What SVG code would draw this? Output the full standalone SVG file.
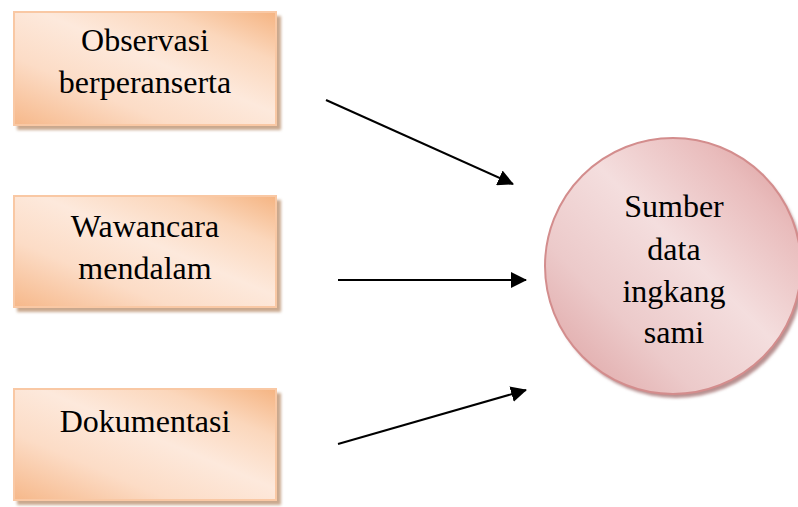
<svg xmlns="http://www.w3.org/2000/svg" width="798" height="507" viewBox="0 0 798 507">
<defs>
<linearGradient id="boxg" x1="0" y1="1" x2="1" y2="0">
<stop offset="0" stop-color="#f6b88a"/>
<stop offset="0.3" stop-color="#fcdcc6"/>
<stop offset="0.55" stop-color="#fde9dc"/>
<stop offset="0.78" stop-color="#fbd7bc"/>
<stop offset="1" stop-color="#f5b482"/>
</linearGradient>
<linearGradient id="circg" x1="0" y1="1" x2="1" y2="0">
<stop offset="0" stop-color="#dc9d9d"/>
<stop offset="0.3" stop-color="#eccaca"/>
<stop offset="0.55" stop-color="#f4dede"/>
<stop offset="0.8" stop-color="#e9bcbc"/>
<stop offset="1" stop-color="#d89696"/>
</linearGradient>
<filter id="sh" x="-10%" y="-10%" width="130%" height="130%">
<feGaussianBlur stdDeviation="1.5"/>
</filter>
<marker id="ah" markerWidth="8" markerHeight="8" refX="7.5" refY="4" orient="auto" markerUnits="strokeWidth">
<path d="M0,0 L8,4 L0,8 Z" fill="#000"/>
</marker>
<style>
.box{fill:url(#boxg);stroke:#f9c8a4;stroke-width:2}
.bsh{fill:#c9a88e;filter:url(#sh)}
.t{font-family:"Liberation Serif","Times New Roman",serif;font-size:32px;fill:#000;text-anchor:middle}
.c{stroke:#000;stroke-width:2;fill:none;marker-end:url(#ah)}
</style>
</defs>
<rect width="798" height="507" fill="#fff"/>
<g id="node-observasi">
<rect class="bsh" x="17" y="16" width="264" height="114"/>
<rect class="box" x="14" y="12" width="262" height="113"/>
<text class="t" x="145" y="51">Observasi</text>
<text class="t" x="145" y="93">berperanserta</text>
</g>
<g id="node-wawancara">
<rect class="bsh" x="17" y="200" width="264" height="112"/>
<rect class="box" x="14" y="196" width="262" height="111"/>
<text class="t" x="145" y="237">Wawancara</text>
<text class="t" x="145" y="279">mendalam</text>
</g>
<g id="node-dokumentasi">
<rect class="bsh" x="17" y="393" width="264" height="112"/>
<rect class="box" x="14" y="389" width="262" height="111"/>
<text class="t" x="145" y="432">Dokumentasi</text>
</g>
<g id="node-sumber">
<circle cx="676" cy="270" r="128" fill="#b89090" filter="url(#sh)"/>
<circle cx="673" cy="266" r="128" fill="url(#circg)" stroke="#d38d8d" stroke-width="2"/>
<text class="t" x="674" y="217">Sumber</text>
<text class="t" x="674" y="260">data</text>
<text class="t" x="674" y="302">ingkang</text>
<text class="t" x="674" y="343">sami</text>
</g>
<g id="connectors">
<line class="c" x1="326" y1="100" x2="513" y2="184"/>
<line class="c" x1="338" y1="280" x2="526" y2="280"/>
<line class="c" x1="338" y1="444" x2="526" y2="390"/>
</g>
</svg>
